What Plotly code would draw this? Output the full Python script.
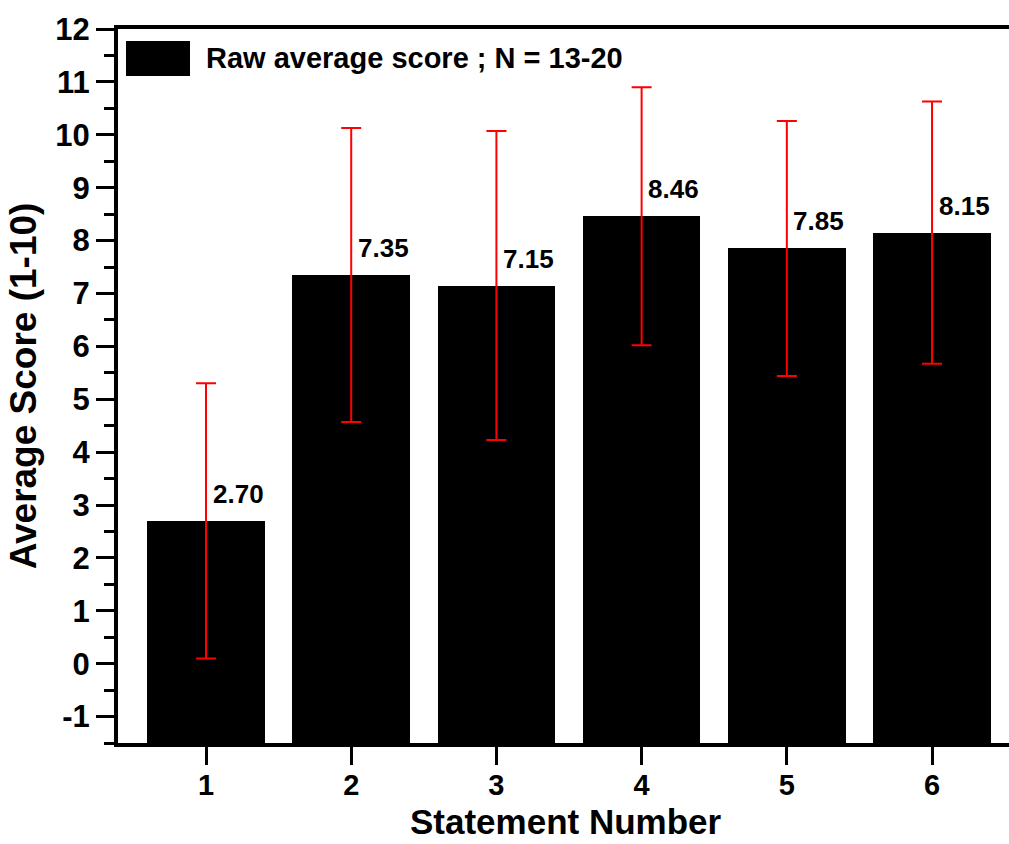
import plotly.graph_objects as go
import numpy as np

statements = [1, 2, 3, 4, 5, 6]
avg_score = [2.70, 7.35, 7.15, 8.46, 7.85, 8.15]
err = [2.60, 2.78, 2.92, 2.44, 2.41, 2.48]
labels = ["2.70", "7.35", "7.15", "8.46", "7.85", "8.15"]
y_ticks = list(range(-1, 13))

YMIN, YMAX = -1.5, 12
FONT = "Liberation Sans, Arial, sans-serif"
PLOT_H = 714

fig = go.Figure()
fig.add_trace(go.Bar(
    x=statements,
    y=[v - YMIN for v in avg_score],
    base=YMIN,
    width=0.81,
    marker=dict(color="black", line=dict(width=0)),
    showlegend=False,
    hoverinfo="skip",
))
fig.add_trace(go.Scatter(
    x=statements, y=avg_score, mode="markers",
    marker=dict(size=1, opacity=0),
    error_y=dict(type="data", array=err, color="red", thickness=2, width=10),
    showlegend=False,
))

for xi, v, t in zip(statements, avg_score, labels):
    fig.add_annotation(x=xi, y=v, text=f"<b>{t}</b>", showarrow=False,
                       xshift=32, yshift=27,
                       font=dict(family=FONT, size=26, color="black"))

# legend
fig.add_shape(type="rect", xref="paper", yref="paper",
              x0=(126 - 118) / 891, x1=(190 - 118) / 891,
              y0=1 - (76 - 29) / PLOT_H, y1=1 - (41 - 29) / PLOT_H,
              fillcolor="black", line=dict(width=0))
fig.add_annotation(xref="paper", yref="paper",
                   x=(204 - 118) / 891, y=1 - (58 - 29) / PLOT_H,
                   xanchor="left", yanchor="middle", showarrow=False,
                   text="<b>Raw average score ; N = 13-20</b>",
                   font=dict(family=FONT, size=29, color="black"))

# x-axis title
fig.add_annotation(xref="paper", yref="paper",
                   x=(566 - 118) / 891, y=-(821 - 743) / PLOT_H,
                   xanchor="center", yanchor="middle", showarrow=False,
                   borderpad=0,
                   text="<b>Statement Number</b>",
                   font=dict(family=FONT, size=35, color="black"))

fig.update_layout(
    width=1009, height=844,
    margin=dict(l=118, r=0, t=29, b=101),
    paper_bgcolor="white", plot_bgcolor="white",
    font=dict(family=FONT, color="black"),
    bargap=0,
)
fig.update_xaxes(
    range=[0.394, 6.53],
    tickvals=statements, ticktext=[f"<b>{s}</b>" for s in statements],
    ticks="outside", ticklen=18, tickwidth=3, tickcolor="black",
    tickfont=dict(family=FONT, size=29),
    ticklabelstandoff=-5,
    showline=True, linewidth=4, linecolor="black", mirror=True,
    showgrid=False, zeroline=False,
)
fig.update_yaxes(
    range=[YMIN, YMAX],
    tickvals=y_ticks, ticktext=[f"<b>{t}</b>" for t in y_ticks],
    ticks="outside", ticklen=18, tickwidth=3, tickcolor="black",
    tickfont=dict(family=FONT, size=31),
    minor=dict(dtick=0.5, tick0=0, ticks="outside", ticklen=10, tickwidth=3, tickcolor="black"),
    showline=True, linewidth=4, linecolor="black",
    showgrid=False, zeroline=False,
    title=dict(text="<b>Average Score (1-10)</b>", font=dict(family=FONT, size=37), standoff=8),
)

fig.write_html("out.html")
